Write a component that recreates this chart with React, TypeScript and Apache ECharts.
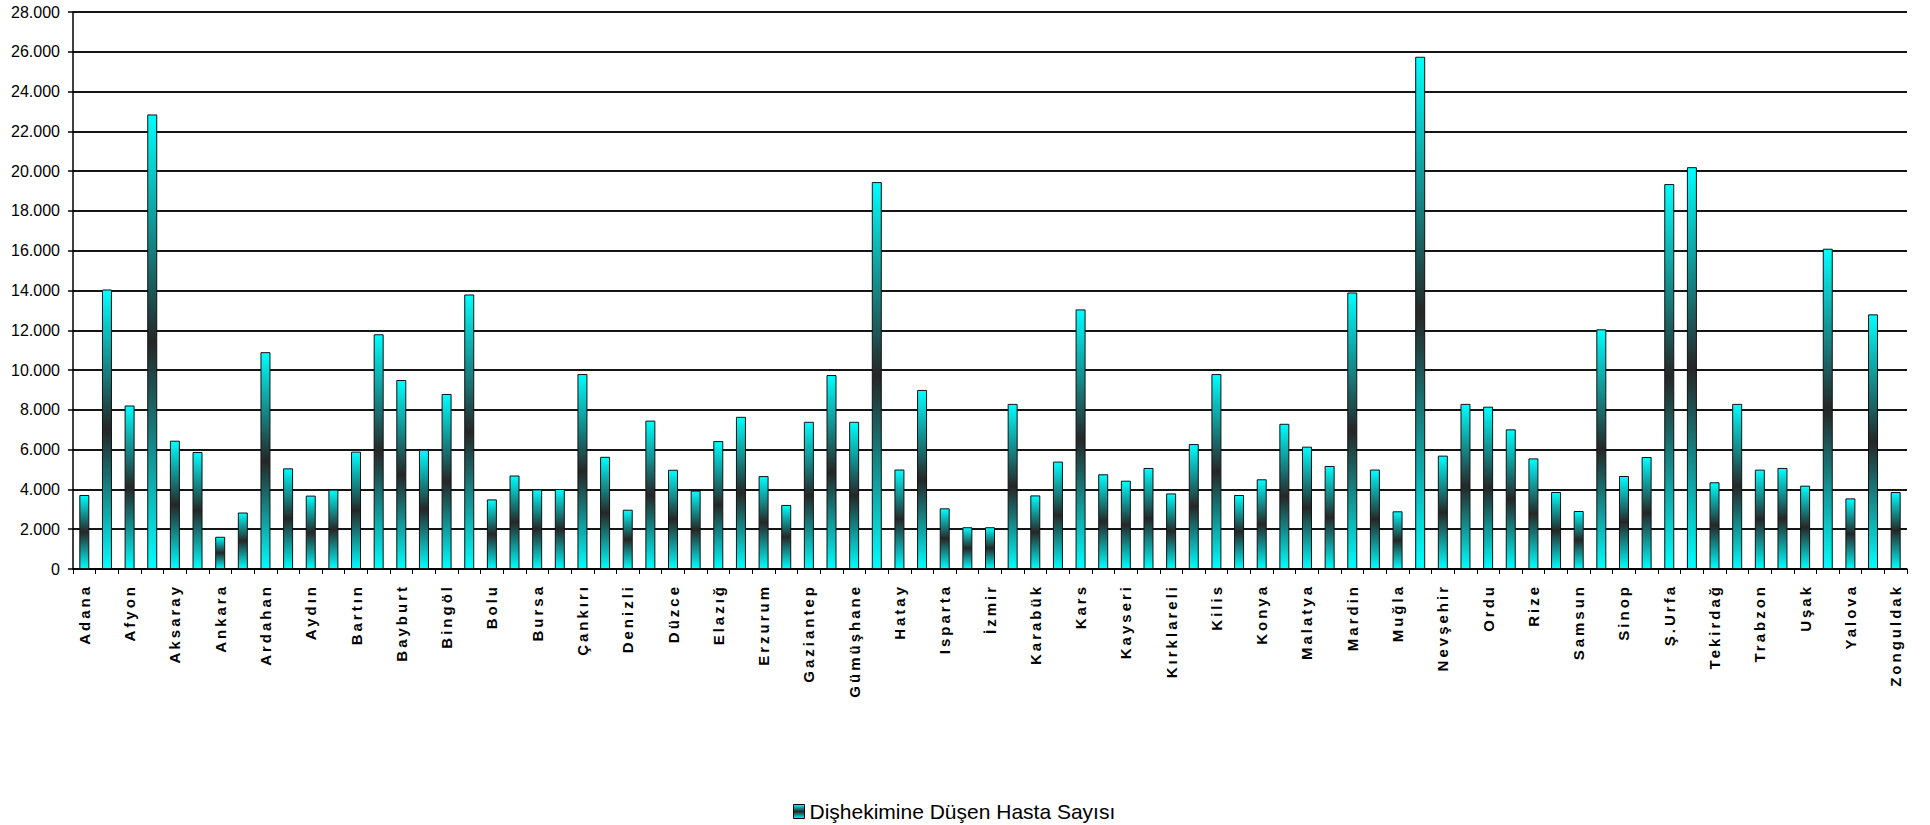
import React, { useEffect, useRef } from "react";
import * as echarts from "echarts";

const provinces: string[] = [
  "Adana", "Adıyaman", "Afyon", "Ağrı", "Aksaray", "Amasya", "Ankara", "Antalya", "Ardahan", "Artvin",
  "Aydın", "Balıkesir", "Bartın", "Batman", "Bayburt", "Bilecik", "Bingöl", "Bitlis", "Bolu", "Burdur",
  "Bursa", "Çanakkale", "Çankırı", "Çorum", "Denizli", "Diyarbakır", "Düzce", "Edirne", "Elazığ", "Erzincan",
  "Erzurum", "Eskişehir", "Gaziantep", "Giresun", "Gümüşhane", "Hakkari", "Hatay", "Iğdır", "Isparta", "İstanbul",
  "İzmir", "K.Maraş", "Karabük", "Karaman", "Kars", "Kastamonu", "Kayseri", "Kırıkkale", "Kırklareli", "Kırşehir",
  "Kilis", "Kocaeli", "Konya", "Kütahya", "Malatya", "Manisa", "Mardin", "Mersin", "Muğla", "Muş",
  "Nevşehir", "Niğde", "Ordu", "Osmaniye", "Rize", "Sakarya", "Samsun", "Siirt", "Sinop", "Sivas",
  "Ş.Urfa", "Şırnak", "Tekirdağ", "Tokat", "Trabzon", "Tunceli", "Uşak", "Van", "Yalova", "Yozgat",
  "Zonguldak",
];

const patientsPerDentist: number[] = [
  3720, 14050, 8220, 22850, 6450, 5880, 1620, 2840, 10900, 5060,
  3690, 3990, 5900, 11800, 9500, 6000, 8800, 13800, 3500, 4700,
  4000, 4020, 9800, 5640, 2980, 7460, 4990, 3940, 6430, 7650,
  4670, 3220, 7400, 9750, 7400, 19450, 5000, 9000, 3050, 2100,
  2100, 8300, 3700, 5400, 13050, 4760, 4440, 5080, 3800, 6280,
  9800, 3720, 4510, 7300, 6150, 5180, 13900, 5000, 2900, 25750,
  5700, 8300, 8160, 7020, 5560, 3870, 2915, 12050, 4675, 5630,
  19350, 20200, 4360, 8300, 4995, 5080, 4190, 16100, 3550, 12800,
  3870,
];

const seriesName = "Dişhekimine Düşen Hasta Sayısı";
const yMax = 28000;
const yStep = 2000;

const FONT = "'Liberation Sans', Arial, sans-serif";

function fmt(v: number): string {
  return String(v).replace(/\B(?=(\d{3})+(?!\d))/g, ".");
}

const css = `
#chart-root svg text[style*="bold"],
#chart-root svg text[font-weight="bold"] { letter-spacing: 3px; }
`;

export default function App() {
  const ref = useRef<HTMLDivElement>(null);

  useEffect(() => {
    if (!ref.current) return;
    const chart = echarts.init(ref.current, undefined, { renderer: "svg" });
    const grad = new echarts.graphic.LinearGradient(0, 0, 0, 1, [
      { offset: 0, color: "#00ffff" },
      { offset: 0.5, color: "#262626" },
      { offset: 1, color: "#00ffff" },
    ]);
    chart.setOption({
      animation: false,
      backgroundColor: "#ffffff",
      grid: { left: 73, right: 23, top: 12, bottom: 256, containLabel: false },
      legend: {
        data: [seriesName],
        left: 788,
        top: 796,
        icon: "rect",
        itemWidth: 11,
        itemHeight: 14,
        itemGap: 8,
        textStyle: { fontFamily: FONT, fontSize: 21, color: "#000" },
        itemStyle: { borderColor: "#000", borderWidth: 1 },
      },
      xAxis: {
        type: "category",
        data: provinces,
        boundaryGap: true,
        axisLine: { show: true, lineStyle: { color: "#000", width: 1.5 } },
        axisTick: { show: true, interval: 0, alignWithLabel: false, length: 5, lineStyle: { color: "#000", width: 1 } },
        axisLabel: {
          interval: 1,
          rotate: 90,
          margin: 15,
          fontFamily: FONT,
          fontSize: 15,
          fontWeight: "bold",
          color: "#000",
        },
        splitLine: { show: false },
      },
      yAxis: {
        type: "value",
        min: 0,
        max: yMax,
        interval: yStep,
        axisLine: { show: true, lineStyle: { color: "#000", width: 1.5 } },
        axisTick: { show: true, length: 5, lineStyle: { color: "#000", width: 1.5 } },
        axisLabel: {
          margin: 13,
          fontFamily: FONT,
          fontSize: 16,
          color: "#000",
          formatter: (v: number) => fmt(v),
        },
        splitLine: { show: true, lineStyle: { color: "#151515", width: 1.8 } },
      },
      series: [
        {
          name: seriesName,
          type: "bar",
          data: patientsPerDentist,
          barWidth: 10,
          itemStyle: { color: grad, borderColor: "#111", borderWidth: 1 },
        },
      ],
    });
    return () => chart.dispose();
  }, []);

  return (
    <>
      <style>{css}</style>
      <div
        id="chart-root"
        ref={ref}
        style={{ position: "fixed", left: 0, top: 0, width: 1930, height: 825, background: "#fff" }}
      />
    </>
  );
}
